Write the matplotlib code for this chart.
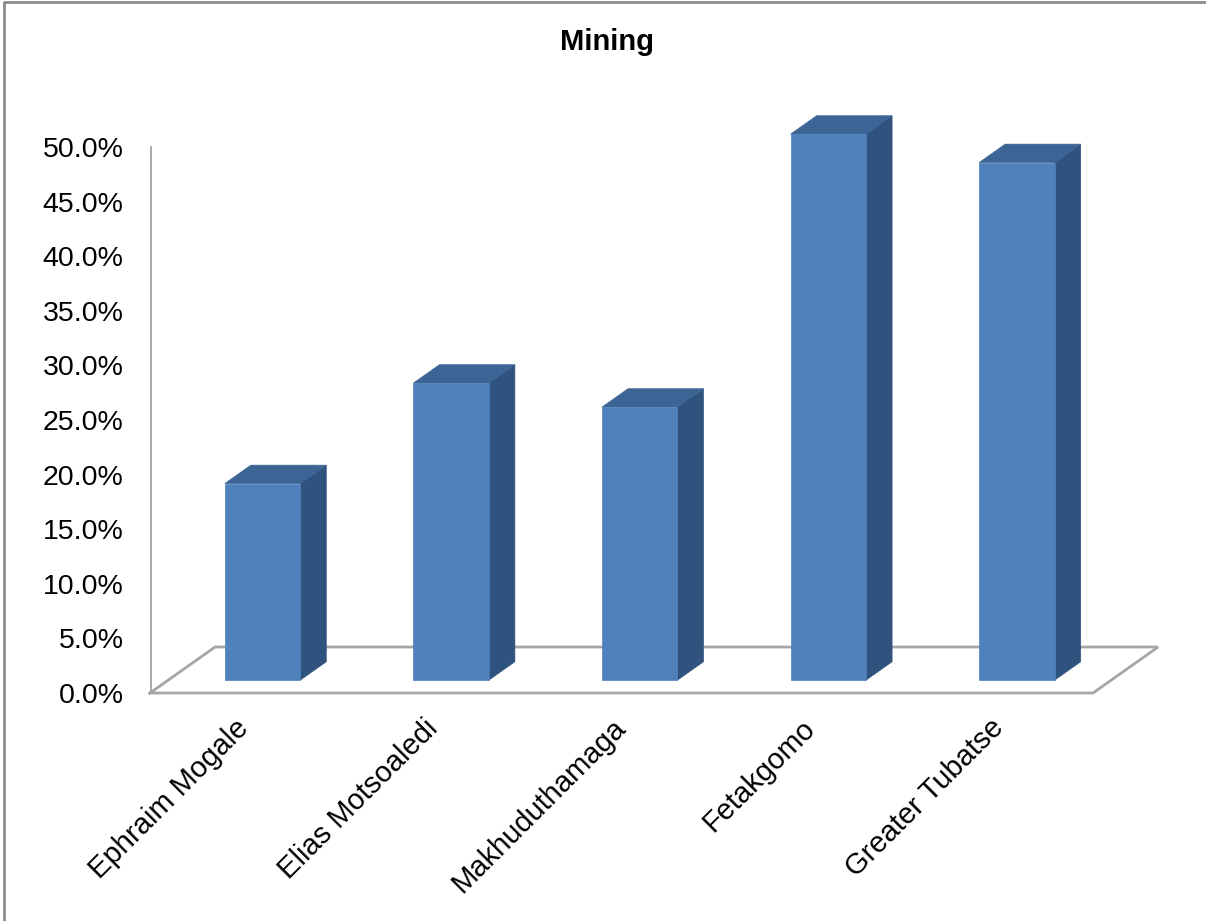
import matplotlib
matplotlib.use("Agg")
import matplotlib.pyplot as plt
from matplotlib.patches import Polygon
from matplotlib.lines import Line2D

plt.rcParams["font.family"] = ["Liberation Sans", "DejaVu Sans"]

# data (share of employment in mining)
municipalities = ["Ephraim Mogale", "Elias Motsoaledi", "Makhuduthamaga",
                  "Fetakgomo", "Greater Tubatse"]
mining_share = [18.0, 27.2, 25.0, 50.0, 47.4]
y_ticks = [0, 5, 10, 15, 20, 25, 30, 35, 40, 45, 50]

# pseudo-3D geometry (data units: 1 per category, % on y)
DEPTH = (0.345, 4.21)      # floor depth vector
FRONT, BACK = 0.28, 0.68   # bar depth span as fraction of floor depth
BAR_W = 0.40
FACE, TOP, SIDE = "#4F81BD", "#3C6595", "#30527E"
GRID = "#A6A6A6"

fig = plt.figure(figsize=(12.06, 9.21), dpi=100)
ax = fig.add_axes([150 / 1206, (921 - 693) / 921,
                   5.5 * 188.6 / 1206, 56 * 10.92 / 921])
n = len(municipalities)
ax.set_xlim(0, 5.5)
ax.set_ylim(0, 56)
for s in ax.spines.values():
    s.set_visible(False)

# floor and value axis
dx, dy = DEPTH
ax.plot([0, dx, n + dx, n, 0], [0, dy, dy, 0, 0], color=GRID, lw=2,
        solid_joinstyle="miter", zorder=1, clip_on=False)
ax.plot([0, 0], [0, y_ticks[-1]], color=GRID, lw=2, zorder=1)

for i, v in enumerate(mining_share):
    x0 = i + (1 - BAR_W) / 2 + FRONT * dx
    x1 = x0 + BAR_W
    y0 = FRONT * dy
    y1 = y0 + v
    ox, oy = (BACK - FRONT) * dx, (BACK - FRONT) * dy
    side = [(x1, y0), (x1 + ox, y0 + oy), (x1 + ox, y1 + oy), (x1, y1)]
    top = [(x0, y1), (x0 + ox, y1 + oy), (x1 + ox, y1 + oy), (x1, y1)]
    front = [(x0, y0), (x1, y0), (x1, y1), (x0, y1)]
    for pts, c in [(side, SIDE), (top, TOP), (front, FACE)]:
        ax.add_patch(Polygon(pts, closed=True, facecolor=c, edgecolor=c,
                             lw=0.5, zorder=3, clip_on=False))

ax.set_yticks(y_ticks)
ax.set_yticklabels([f"{t:.1f}%" for t in y_ticks], fontsize=20.5)
ax.tick_params(axis="y", length=0, pad=19)
ax.set_xticks([])

for i, name in enumerate(municipalities):
    ax.text(i + 0.5 - 0.05, -1.9, name, rotation=45, rotation_mode="anchor",
            ha="right", va="top", fontsize=21)

fig.text(607 / 1206, 1 - 42 / 921, "Mining", ha="center", va="center",
         fontsize=21, fontweight="bold")

# chart border (top and left edges visible)
fig.add_artist(Line2D([4 / 1206, 4 / 1206, 1], [0, 1 - 2 / 921, 1 - 2 / 921],
                      transform=fig.transFigure, color="#8C8C8C", lw=2))

fig.savefig("out.png", dpi=100)
